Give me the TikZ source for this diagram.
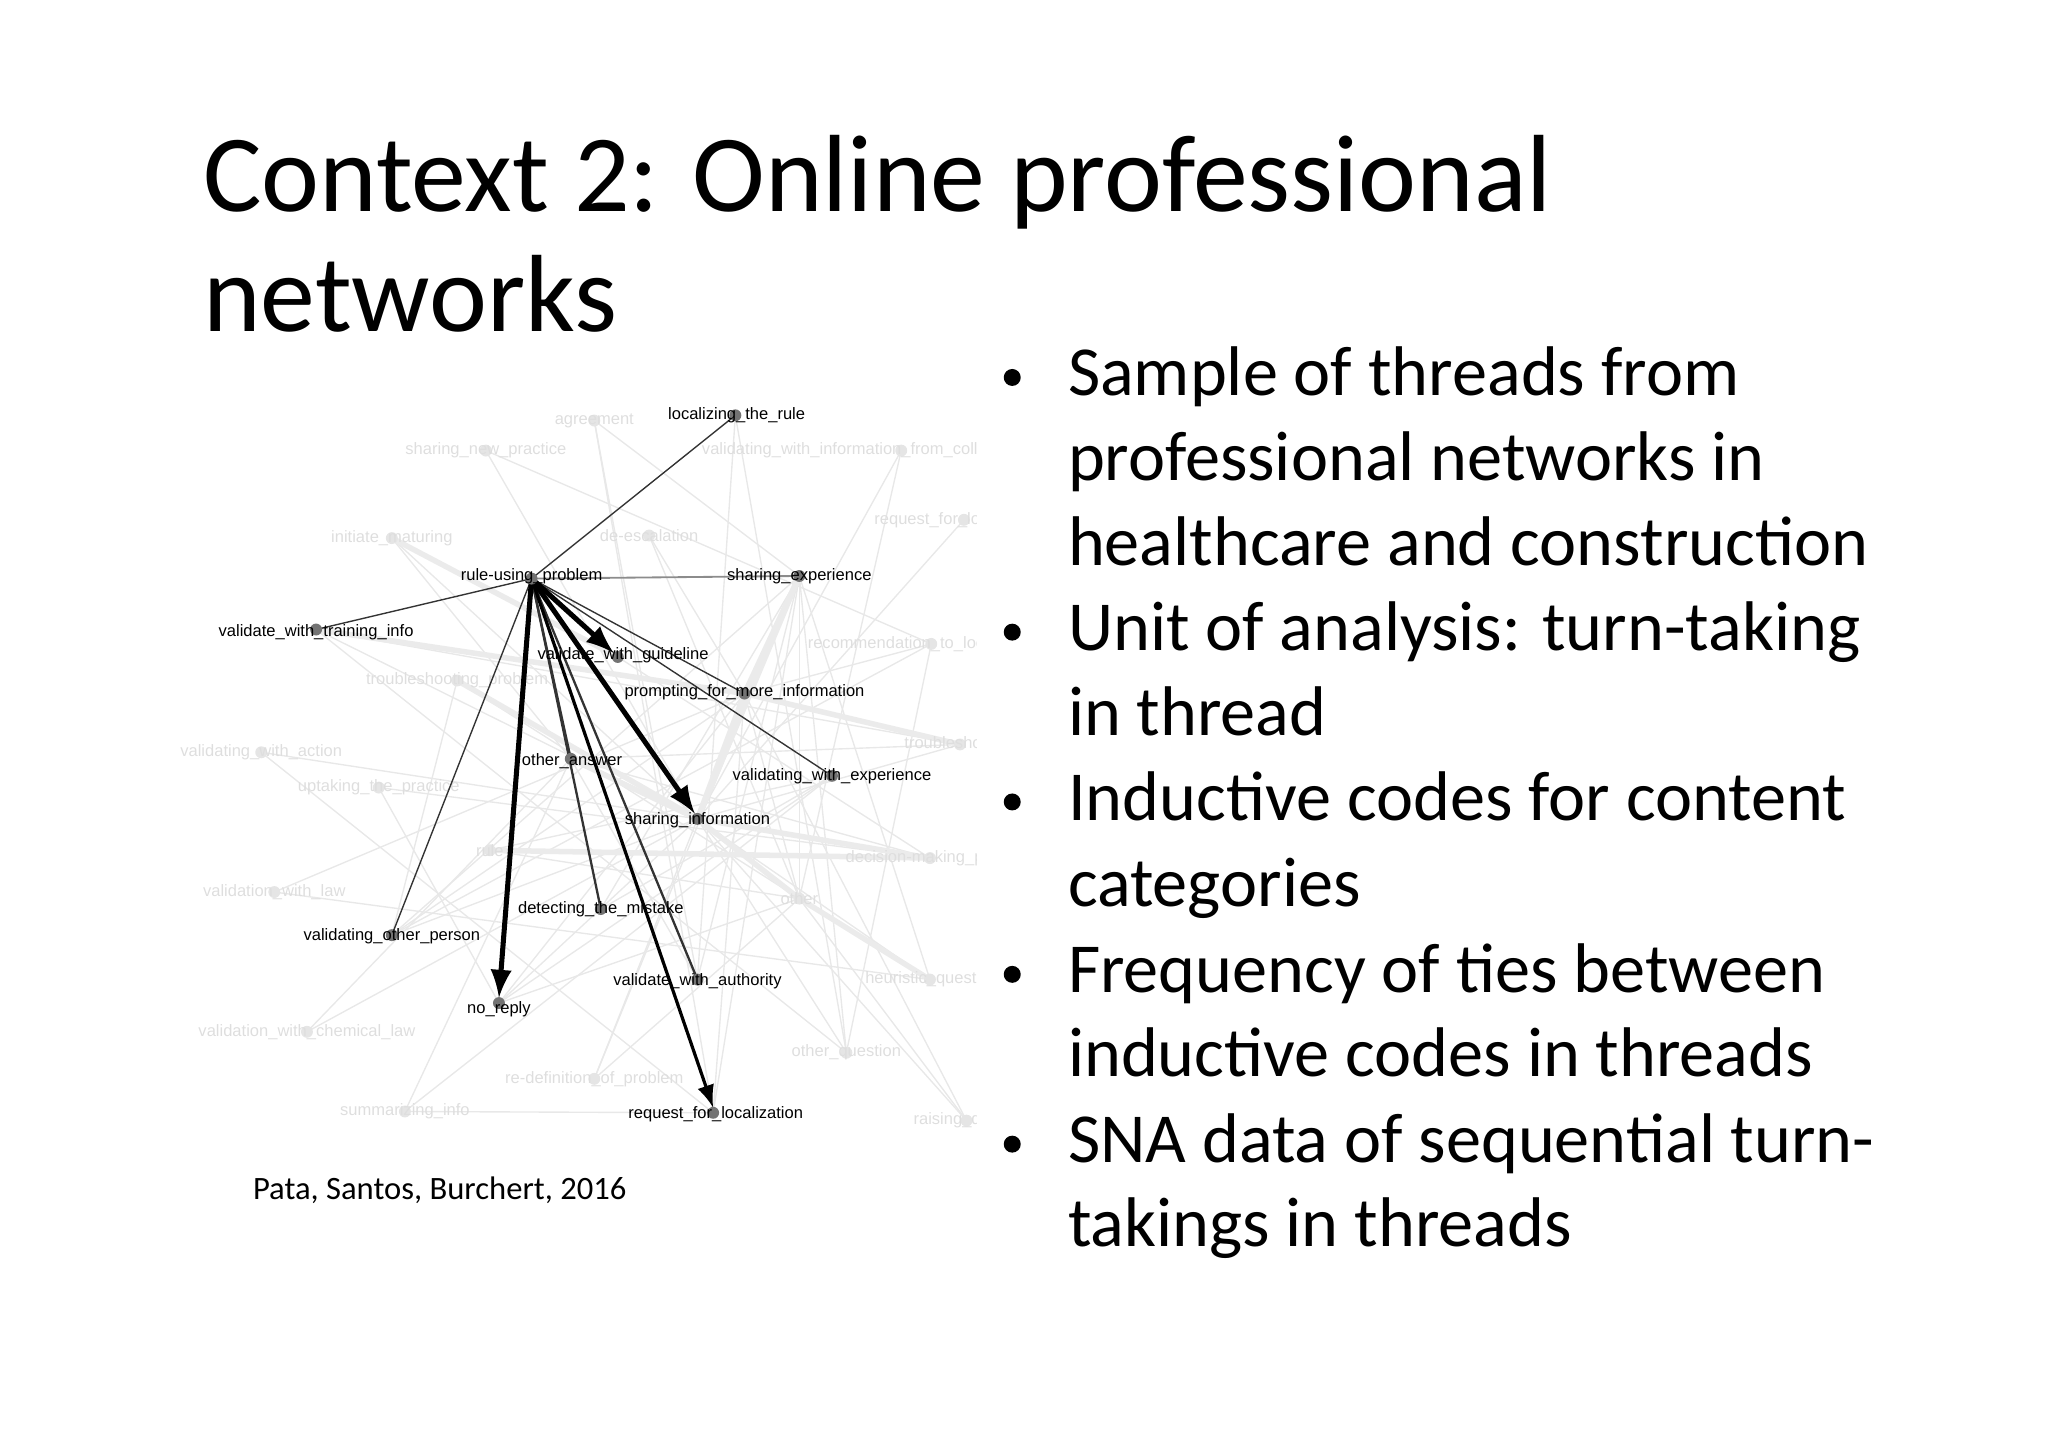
\documentclass[tikz,border=0pt]{standalone}
\usepackage{fontspec}
\setmainfont{Carlito}
\newfontfamily\gfont{Liberation Sans}
\begin{document}
\begin{tikzpicture}[x=0.01cm,y=-0.01cm,
  lab/.style={font=\gfont\fontsize{3.6}{4}\selectfont,inner sep=0.5pt},
  flab/.style={lab,text=black!13},
  dot/.style={circle,fill=black!55,inner sep=0pt,minimum size=2.6pt},
  fdot/.style={circle,fill=black!10,inner sep=0pt,minimum size=2.6pt},
  fe/.style={draw=black!9,line width=0.3pt},
  fe2/.style={draw=black!8,line width=1.2pt},
  thin/.style={draw=black!80,line width=0.3pt},
  arr/.style={draw=black,line width=1.1pt,-latex},
  bul/.style={font=\fontsize{15.3}{19}\selectfont,anchor=base west,inner sep=0pt}]
\useasboundingbox (0,0) rectangle (1568,1107);
\begin{scope}
\clip (137,300) rectangle (748,872);
\coordinate (loc) at (563,318);
\coordinate (agr) at (455,322);
\coordinate (snp) at (372,345);
\coordinate (vwi) at (690,345);
\coordinate (rfl) at (738,398);
\coordinate (ini) at (300,412);
\coordinate (dee) at (497,410);
\coordinate (rup) at (407,443);
\coordinate (sexp) at (612,441);
\coordinate (vti) at (242,482);
\coordinate (rec) at (713,493);
\coordinate (vgu) at (473,503);
\coordinate (tsp) at (350,521);
\coordinate (pfm) at (570,531);
\coordinate (vac) at (200,576);
\coordinate (ts2) at (735,570);
\coordinate (oan) at (437,581);
\coordinate (vexp) at (637,594);
\coordinate (upt) at (290,603);
\coordinate (sinf) at (534,627);
\coordinate (unk) at (375,651);
\coordinate (dmp) at (712,657);
\coordinate (vlaw) at (210,683);
\coordinate (oth) at (612,688);
\coordinate (dtm) at (460,696);
\coordinate (vop) at (300,716);
\coordinate (vau) at (534,750);
\coordinate (heu) at (712,750);
\coordinate (nor) at (382,768);
\coordinate (vcl) at (235,790);
\coordinate (oq) at (648,806);
\coordinate (rdp) at (455,826);
\coordinate (sum) at (310,851);
\coordinate (rloc) at (546,852);
\coordinate (rai) at (740,858);
\foreach \a/\b in {snp/sinf,snp/rec,agr/vau,agr/rloc,dee/pfm,dee/oth,vwi/sinf,vwi/oth,rfl/sinf,ini/sinf,ini/oan,tsp/oth,tsp/vop,vac/sinf,vac/rloc,upt/dmp,upt/nor,unk/oth,unk/vexp,vlaw/pfm,vlaw/heu,vcl/sinf,vcl/oan,oq/sinf,oq/sexp,rdp/sinf,rdp/sexp,sum/oan,sum/vexp,sum/rloc,rai/oth,rai/sinf,heu/sinf,heu/sexp,ts2/sinf,ts2/oan,dmp/oan,dmp/sinf,oth/pfm,oth/sexp,oth/rdp,oth/nor,sexp/vau,sexp/dtm,sexp/vop,pfm/vop,pfm/nor,pfm/rec,sinf/vti,sinf/nor,sinf/vop,vexp/nor,vexp/dtm,vau/oan,rloc/sexp,rloc/pfm,loc/vau,loc/oq,agr/sexp,vgu/dmp,vti/ts2,vti/oq,rec/oq,rec/vop,rai/pfm}
  \draw[fe] (\a) -- (\b);
\foreach \a/\b in {sexp/sinf,pfm/sinf,sinf/dmp,sinf/oth,oth/heu,sexp/pfm,vti/pfm,unk/dmp,oan/sinf,ini/vgu,pfm/ts2,tsp/sinf}
  \draw[fe2] (\a) -- (\b);
\foreach \c in {agr,snp,vwi,rfl,ini,dee,rec,tsp,vac,ts2,upt,unk,dmp,vlaw,oth,heu,vcl,oq,rdp,sum,rai}
  \node[fdot] at (\c) {};
\node[flab] at (agr) {agreement};
\node[flab] at (snp) {sharing\_new\_practice};
\node[flab,anchor=west] at (535,345) {validating\_with\_information\_from\_colleague};
\node[flab,anchor=west] at (667,398) {request\_for\_localization};
\node[flab] at (ini) {initiate\_maturing};
\node[flab] at (dee) {de-escalation};
\node[flab,anchor=west] at (616,493) {recommendation\_to\_localize};
\node[flab] at (tsp) {troubleshooting\_problem};
\node[flab] at (vac) {validating\_with\_action};
\node[flab,anchor=west] at (690,570) {troubleshooting};
\node[flab] at (upt) {uptaking\_the\_practice};
\node[flab] at (unk) {rule};
\node[flab,anchor=west] at (645,657) {decision-making\_problem};
\node[flab] at (vlaw) {validation\_with\_law};
\node[flab] at (oth) {other};
\node[flab,anchor=west] at (660,750) {heuristic\_question};
\node[flab] at (vcl) {validation\_with\_chemical\_law};
\node[flab] at (oq) {other\_question};
\node[flab] at (rdp) {re-definition\_of\_problem};
\node[flab] at (sum) {summarizing\_info};
\node[flab,anchor=west] at (697,858) {raising\_question};
\draw[thin] (rup) -- (loc);
\draw[draw=black!45,line width=0.4pt] (rup) -- (sexp);
\draw[thin] (rup) -- (vti);
\draw[thin] (rup) -- (vop);
\draw[thin] (rup) -- (vexp);
\draw[thin] (rup) -- (pfm);
\draw[thin,line width=0.5pt] (rup) -- (oan);
\draw[thin,line width=0.5pt] (rup) -- (dtm);
\draw[thin,line width=0.5pt] (rup) -- (vau);
\draw[arr] (rup) -- ([shift={(-3,-3)}]vgu);
\draw[arr] (rup) -- ([shift={(-2,-4)}]sinf);
\draw[arr] (rup) -- ([shift={(0,-4)}]nor);
\draw[draw=black,line width=0.7pt,-latex] (rup) -- ([shift={(0,-4)}]rloc);
\foreach \c in {loc,rup,sexp,vti,vgu,pfm,oan,vexp,sinf,dtm,vop,vau,nor,rloc}
  \node[dot] at (\c) {};
\node[lab] at (564,318) {localizing\_the\_rule};
\node[lab] at (407,441) {rule-using\_problem};
\node[lab] at (612,441) {sharing\_experience};
\node[lab] at (242,484) {validate\_with\_training\_info};
\node[lab] at (477,502) {validate\_with\_guideline};
\node[lab] at (570,530) {prompting\_for\_more\_information};
\node[lab] at (438,583) {other\_answer};
\node[lab] at (637,594) {validating\_with\_experience};
\node[lab] at (534,628) {sharing\_information};
\node[lab] at (460,696) {detecting\_the\_mistake};
\node[lab] at (300,717) {validating\_other\_person};
\node[lab] at (534,751) {validate\_with\_authority};
\node[lab] at (382,773) {no\_reply};
\node[lab] at (548,853) {request\_for\_localization};
\end{scope}
\node[anchor=base west,inner sep=0,font=\fontsize{23.9}{30}\selectfont] (t1) at (155,162) {Context 2: Online professional};
\node[anchor=base west,inner sep=0,font=\fontsize{23.9}{30}\selectfont] (t2) at (155,254) {networks};
\node[anchor=base west,inner sep=0,font=\fontsize{7.1}{8}\selectfont] (cit) at (193,918) {Pata, Santos, Burchert, 2016};
\foreach \y/\t in {303/Sample of threads from,368/professional networks in,433/healthcare and construction,498/{Unit of analysis: turn-taking},563/in thread,628/Inductive codes for content,694/categories,760/Frequency of ties between,824/inductive codes in threads,890/SNA data of sequential turn-,954/takings in threads}
  \node[bul] at (817,\y) {\t};
\foreach \y in {303,498,628,760,890}
  \fill (775,\y-14) circle (6.5);
\end{tikzpicture}
\end{document}
